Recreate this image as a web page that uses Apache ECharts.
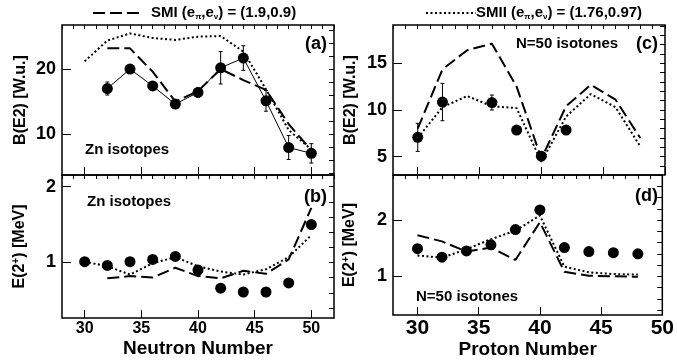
<!DOCTYPE html>
<html>
<head>
<meta charset="utf-8">
<script src="https://cdn.jsdelivr.net/npm/echarts@6/dist/echarts.min.js"></script>
<style>
  html, body { margin: 0; padding: 0; background: #fff; }
  #chart { width: 677px; height: 360px; }
</style>
</head>
<body>
<div id="chart"></div>
<script>
// Zn isotopes, panel (a): B(E2) in W.u. vs neutron number
const ZN_EXP_N = [32, 34, 36, 38, 40, 42, 44, 46, 48, 50];
const ZN_BE2_EXP = [17.0, 20.0, 17.4, 14.6, 16.4, 20.2, 21.7, 15.1, 7.9, 7.0];
const ZN_BE2_ERR = [1.0, 0.6, 0.5, 0.4, 0.7, 2.5, 1.9, 1.6, 1.85, 1.5];
const ZN_SMI_N = [32, 34, 36, 38, 40, 42, 44, 46, 48, 50];
const ZN_BE2_SMI = [23.2, 23.2, 19.6, 15.0, 16.6, 20.0, 18.3, 16.8, 11.5, 7.5];
const ZN_SMII_N = [30, 32, 34, 36, 38, 40, 42, 44, 46, 48, 50];
const ZN_BE2_SMII = [21.2, 24.4, 25.5, 24.8, 24.5, 25.0, 25.1, 22.7, 16.9, 10.6, 7.6];

// Zn isotopes, panel (b): E(2+) in MeV
const ZN_E2_N = [30, 32, 34, 36, 38, 40, 42, 44, 46, 48, 50];
const ZN_E2_EXP = [1.01, 0.96, 1.01, 1.04, 1.08, 0.90, 0.66, 0.61, 0.61, 0.73, 1.50];
const ZN_E2_SMI_N = [32, 34, 36, 38, 40, 42, 44, 46, 48, 50];
const ZN_E2_SMI = [0.79, 0.82, 0.80, 0.93, 0.82, 0.79, 0.89, 0.85, 1.04, 1.72];
const ZN_E2_SMII = [1.01, 0.95, 0.84, 0.99, 1.07, 0.95, 0.88, 0.84, 0.91, 1.07, 1.36];

// N=50 isotones, panel (c): B(E2) vs proton number
const ISO_EXP_Z = [30, 32, 36, 38, 40, 42];
const ISO_BE2_EXP = [7.07, 10.85, 10.8, 7.85, 5.06, 7.85];
const ISO_BE2_ERR = [1.5, 2.0, 0.8, 0, 0.3, 0];
const ISO_Z = [30, 32, 34, 36, 38, 40, 42, 44, 46, 48];
const ISO_BE2_SMI = [8.0, 14.35, 16.4, 17.1, 12.5, 4.8, 10.4, 12.7, 11.1, 7.0];
const ISO_BE2_SMII = [7.0, 10.3, 11.5, 10.4, 10.2, 4.45, 9.3, 11.7, 10.3, 6.1];

// N=50 isotones, panel (d): E(2+)
const ISO_E2_EXP = [1.49, 1.34, 1.45, 1.56, 1.83, 2.18, 1.51, 1.44, 1.42, 1.40];
const ISO_E2_SMI = [1.73, 1.62, 1.44, 1.51, 1.29, 1.96, 1.08, 1.01, 1.00, 0.99];
const ISO_E2_SMII = [1.37, 1.33, 1.48, 1.66, 1.81, 2.08, 1.17, 1.07, 1.04, 1.03];

// tick labels
const X_TICKS = [30, 35, 40, 45, 50];
const BE2_ZN_TICKS = [10, 20];
const BE2_ISO_TICKS = [5, 10, 15];
const E2_TICKS = [1, 2];

const FONT = "Liberation Sans, Arial, sans-serif";
const DASH = [12, 5];
const DOT = [2, 2.5];

function steps(from, to, step) {
  const out = [];
  for (let v = from; v <= to + 1e-9; v += step) out.push(Math.round(v * 100) / 100);
  return out;
}

const pairs = (xs, ys) => xs.map((x, i) => [x, ys[i]]);

// one grid per panel, (a)(b) left column, (c)(d) right column
const GRIDS = [
  { left: 62, top: 25, width: 272, height: 150 },
  { left: 62, top: 175, width: 272, height: 143 },
  { left: 393, top: 25, width: 272, height: 150 },
  { left: 393, top: 175, width: 272, height: 143 },
];

function xAxes(g, max, labels, size, name, gap) {
  const base = {
    type: "value", gridIndex: g, min: 28, max,
    axisLine: { show: false }, splitLine: { show: false },
  };
  return [
    {
      ...base,
      axisTick: { inside: true, length: 8, customValues: X_TICKS, lineStyle: { color: "#000", width: 1 } },
      axisLabel: {
        show: labels, customValues: X_TICKS, margin: 3,
        color: "#000", fontWeight: "bold", fontSize: size, fontFamily: FONT,
      },
      name: name || "", nameLocation: "middle", nameGap: gap || 0,
      nameTextStyle: { color: "#000", fontWeight: "bold", fontSize: 19, fontFamily: FONT },
    },
    {
      ...base,
      axisTick: { inside: true, length: 4, customValues: steps(28, max, 1), lineStyle: { color: "#000", width: 1 } },
      axisLabel: { show: false },
    },
  ];
}

function yAxes(g, min, max, major, minor, name, gap) {
  const base = {
    type: "value", gridIndex: g, min, max,
    axisLine: { show: false }, splitLine: { show: false },
  };
  return [
    {
      ...base,
      axisTick: { inside: true, length: 9, customValues: major, lineStyle: { color: "#000", width: 1 } },
      axisLabel: {
        customValues: major, margin: 6,
        color: "#000", fontWeight: "bold", fontSize: 18, fontFamily: FONT,
      },
      name, nameLocation: "middle", nameGap: gap, nameRotate: 90,
      nameTextStyle: {
        color: "#000", fontWeight: "bold", fontSize: 16, fontFamily: FONT,
        rich: {
          n: { color: "#000", fontWeight: "bold", fontSize: 16, fontFamily: FONT },
          s: { color: "#000", fontWeight: "bold", fontSize: 10, fontFamily: FONT, verticalAlign: "top", padding: [0, 0, 8, 0] },
        },
      },
    },
    {
      ...base,
      axisTick: { inside: true, length: 5, customValues: minor, lineStyle: { color: "#000", width: 1 } },
      axisLabel: { show: false },
    },
  ];
}

function line(panel, data, type, width) {
  return {
    type: "line", xAxisIndex: panel * 2, yAxisIndex: panel * 2, data,
    symbol: "none", silent: true,
    lineStyle: { color: "#000", width, type },
  };
}

function dots(panel, data) {
  return {
    type: "scatter", xAxisIndex: panel * 2, yAxisIndex: panel * 2, data,
    symbol: "circle", symbolSize: 11, itemStyle: { color: "#000", opacity: 1 }, z: 5,
  };
}

function errorBars(panel, xs, ys, errs) {
  return {
    type: "custom", xAxisIndex: panel * 2, yAxisIndex: panel * 2,
    data: xs.map((x, i) => [x, ys[i], errs[i]]),
    z: 4,
    renderItem: (params, api) => {
      const x = api.value(0), y = api.value(1), e = api.value(2);
      if (!e) return null;
      const lo = api.coord([x, y - e]);
      const hi = api.coord([x, y + e]);
      const st = { stroke: "#000", lineWidth: 1 };
      return {
        type: "group",
        children: [
          { type: "line", shape: { x1: lo[0], y1: lo[1], x2: hi[0], y2: hi[1] }, style: st },
          { type: "line", shape: { x1: lo[0] - 2, y1: lo[1], x2: lo[0] + 2, y2: lo[1] }, style: st },
          { type: "line", shape: { x1: hi[0] - 2, y1: hi[1], x2: hi[0] + 2, y2: hi[1] }, style: st },
        ],
      };
    },
  };
}

function label(text, x, y, size, align) {
  return {
    type: "text", x, y,
    style: {
      text, fill: "#000", font: `bold ${size}px ${FONT}`,
      align: align || "left", verticalAlign: "middle",
    },
  };
}

const LEGEND_RICH = {
  sub: { fontSize: 8, fontWeight: "bold", fontFamily: FONT, fill: "#000", verticalAlign: "bottom", padding: [6, 0, 0, 0] },
};

function buildOption() {
  return {
    backgroundColor: "#fff",
    animation: false,
    grid: GRIDS.map((g) => ({ ...g, show: true, borderColor: "#000", borderWidth: 1.5, backgroundColor: "transparent" })),
    xAxis: [
      ...xAxes(0, 52, false, 16),
      ...xAxes(1, 52, true, 16, "Neutron Number", 21),
      ...xAxes(2, 50, false, 21),
      ...xAxes(3, 50, true, 21, "Proton Number", 22),
    ],
    yAxis: [
      ...yAxes(0, 3.66, 26.8, BE2_ZN_TICKS, steps(4, 26, 2), "B(E2) [W.u.]", 33),
      ...yAxes(1, 0.267, 2.154, E2_TICKS, steps(0.4, 2.0, 0.2), "{n|E(2}{s|+}{n|) [MeV]}", 33),
      ...yAxes(2, 3.04, 19.1, BE2_ISO_TICKS, steps(4, 19, 1), "B(E2) [W.u.]", 34),
      ...yAxes(3, 0.31, 2.8, E2_TICKS, steps(0.4, 2.8, 0.2), "{n|E(2}{s|+}{n|) [MeV]}", 34),
    ],
    series: [
      // (a)
      line(0, pairs(ZN_EXP_N, ZN_BE2_EXP), "solid", 1),
      line(0, pairs(ZN_SMI_N, ZN_BE2_SMI), DASH, 2),
      line(0, pairs(ZN_SMII_N, ZN_BE2_SMII), DOT, 2),
      errorBars(0, ZN_EXP_N, ZN_BE2_EXP, ZN_BE2_ERR),
      dots(0, pairs(ZN_EXP_N, ZN_BE2_EXP)),
      // (b)
      line(1, pairs(ZN_E2_SMI_N, ZN_E2_SMI), DASH, 2),
      line(1, pairs(ZN_E2_N, ZN_E2_SMII), DOT, 2),
      dots(1, pairs(ZN_E2_N, ZN_E2_EXP)),
      // (c)
      line(2, pairs(ISO_Z, ISO_BE2_SMI), DASH, 2),
      line(2, pairs(ISO_Z, ISO_BE2_SMII), DOT, 2),
      errorBars(2, ISO_EXP_Z, ISO_BE2_EXP, ISO_BE2_ERR),
      dots(2, pairs(ISO_EXP_Z, ISO_BE2_EXP)),
      // (d)
      line(3, pairs(ISO_Z, ISO_E2_SMI), DASH, 2),
      line(3, pairs(ISO_Z, ISO_E2_SMII), DOT, 2),
      dots(3, pairs(ISO_Z, ISO_E2_EXP)),
    ],
    graphic: [
      // legend row
      { type: "line", shape: { x1: 93, y1: 13, x2: 143, y2: 13 }, style: { stroke: "#000", lineWidth: 2, lineDash: DASH } },
      {
        type: "text", x: 151, y: 13,
        style: {
          text: "SMI (e{sub|π},e{sub|ν}) = (1.9,0.9)", rich: LEGEND_RICH,
          fill: "#000", font: `bold 15px ${FONT}`, verticalAlign: "middle",
        },
      },
      { type: "line", shape: { x1: 426, y1: 13, x2: 476, y2: 13 }, style: { stroke: "#000", lineWidth: 2, lineDash: DOT } },
      {
        type: "text", x: 476, y: 13,
        style: {
          text: "SMII (e{sub|π},e{sub|ν}) = (1.76,0.97)", rich: LEGEND_RICH,
          fill: "#000", font: `bold 15px ${FONT}`, verticalAlign: "middle",
        },
      },
      // panel annotations
      label("(a)", 327, 44, 18, "right"),
      label("Zn isotopes", 85, 150, 15),
      label("(b)", 327, 197, 18, "right"),
      label("Zn isotopes", 87, 202, 15),
      label("N=50 isotones", 516, 44, 15),
      label("(c)", 658, 44, 18, "right"),
      label("(d)", 658, 196, 18, "right"),
      label("N=50 isotones", 416, 297, 15),
    ],
  };
}

const chart = echarts.init(document.getElementById("chart"));
chart.setOption(buildOption());
</script>
</body>
</html>
